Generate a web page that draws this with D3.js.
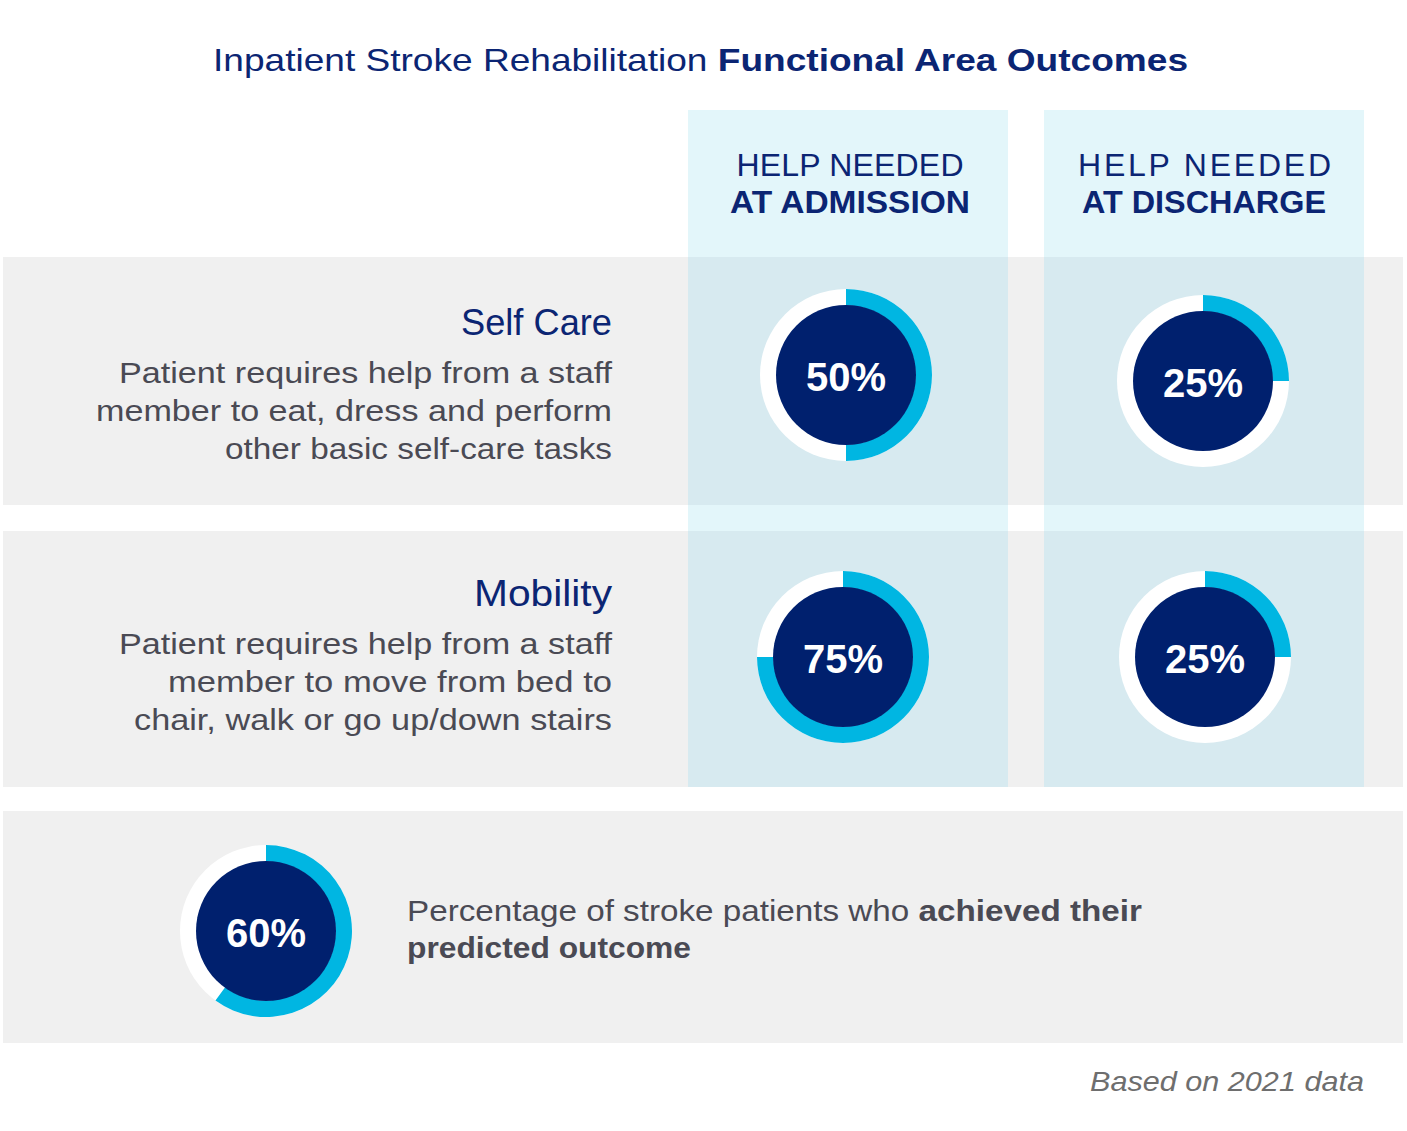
<!DOCTYPE html>
<html>
<head>
<meta charset="utf-8">
<script src="https://cdn.jsdelivr.net/npm/d3@7/dist/d3.min.js"></script>
<style>
  html, body { margin: 0; padding: 0; background: #ffffff; }
  svg { display: block; }
  text { font-family: "Liberation Sans", Arial, Helvetica, sans-serif; }
</style>
</head>
<body>
<svg id="chart" width="1407" height="1131"></svg>
<script>
// ---------- DATA ----------
const titleRegular = "Inpatient Stroke Rehabilitation ";
const titleBold = "Functional Area Outcomes";
const columns = ["admission", "discharge"];
const columnLine1 = ["HELP NEEDED", "HELP NEEDED"];
const columnLine2 = ["AT ADMISSION", "AT DISCHARGE"];
const areas = ["Self Care", "Mobility"];
const areaDescriptions = [
  ["Patient requires help from a staff", "member to eat, dress and perform", "other basic self-care tasks"],
  ["Patient requires help from a staff", "member to move from bed to", "chair, walk or go up/down stairs"]
];
const admissionValues = [50, 75];
const dischargeValues = [25, 25];
const achievedValue = 60;
const achievedTextRegular = "Percentage of stroke patients who ";
const achievedTextBold1 = "achieved their";
const achievedTextBold2 = "predicted outcome";
const footnote = "Based on 2021 data";

// ---------- STYLE ----------
const navy = "#00206E";
const titleNavy = "#0B2573";
const cyan = "#00B6E2";
const lightCyan = "#E3F6FA";
const overlapCyan = "#D7EAF0";
const rowGray = "#F0F0F0";
const descGray = "#4A4A54";
const footGray = "#6E6E6E";

const svg = d3.select("#chart");

function fit(sel, w, mode) {
  sel.attr("textLength", w).attr("lengthAdjust", mode || "spacingAndGlyphs");
  return sel;
}

// ---------- SCALES (layout) ----------
const colX = d3.scaleOrdinal().domain(columns).range([846, 1204]);
const colLeft = d3.scaleOrdinal().domain(columns).range([688, 1044]);
const colWidth = 320;
const rowY = d3.scaleOrdinal().domain(areas).range([378, 657]);
const rowTextY = d3.scaleOrdinal().domain(areas).range([378, 649]);
const rowTop = d3.scaleOrdinal().domain(areas).range([257, 531]);
const rowHeight = d3.scaleOrdinal().domain(areas).range([248, 256]);
const pct = d3.scaleLinear().domain([0, 100]).range([0, 2 * Math.PI]);
// small per-cell placement nudges [dx, dy] (layout only)
const nudge = {
  "Self Care|admission": [0, -3], "Self Care|discharge": [-1, 3],
  "Mobility|admission": [-3, 0], "Mobility|discharge": [1, 0]
};

const rOuter = 86, rInner = 70;
const arcGen = d3.arc().innerRadius(rInner - 0.5).outerRadius(rOuter).startAngle(0);

// ---------- BACKGROUNDS ----------
svg.selectAll("rect.col").data(columns).join("rect")
  .attr("x", d => colLeft(d)).attr("y", 110)
  .attr("width", colWidth).attr("height", 787 - 110)
  .attr("fill", lightCyan);

svg.selectAll("rect.row").data(areas).join("rect")
  .attr("x", 3).attr("y", d => rowTop(d))
  .attr("width", 1400).attr("height", d => rowHeight(d))
  .attr("fill", rowGray);

areas.forEach(a => {
  columns.forEach(c => {
    svg.append("rect")
      .attr("x", colLeft(c)).attr("y", rowTop(a))
      .attr("width", colWidth).attr("height", rowHeight(a))
      .attr("fill", overlapCyan);
  });
});

svg.append("rect").attr("x", 3).attr("y", 811).attr("width", 1400).attr("height", 232).attr("fill", rowGray);

// ---------- TITLE ----------
const t = svg.append("text").attr("x", 213).attr("y", 71)
  .attr("font-size", 32).attr("fill", titleNavy);
t.append("tspan").text(titleRegular);
t.append("tspan").attr("font-weight", "bold").text(titleBold);
fit(t, 975);

// ---------- COLUMN HEADERS ----------
const headW1 = [227, 253], headW2 = [240, 244];
columns.forEach((c, i) => {
  fit(svg.append("text").attr("x", colX(c) + (i ? 0.5 : 4)).attr("y", 176)
    .attr("text-anchor", "middle").attr("font-size", 32).attr("fill", titleNavy)
    .text(columnLine1[i]), headW1[i], "spacing");
  fit(svg.append("text").attr("x", colX(c) + (i ? 0 : 4)).attr("y", 213)
    .attr("text-anchor", "middle").attr("font-size", 32).attr("font-weight", "bold").attr("fill", titleNavy)
    .text(columnLine2[i]), headW2[i]);
});

// ---------- ROW LABELS ----------
const labelW = [151, 138];
const descW = [[493, 516, 387], [493, 444, 478]];
areas.forEach((a, i) => {
  const base = rowTextY(a);
  fit(svg.append("text").attr("x", 612).attr("y", base - 43)
    .attr("text-anchor", "end").attr("font-size", 36).attr("fill", titleNavy)
    .text(a), labelW[i]);
  areaDescriptions[i].forEach((line, j) => {
    fit(svg.append("text").attr("x", 612).attr("y", base + 5 + j * 38)
      .attr("text-anchor", "end").attr("font-size", 30).attr("fill", descGray)
      .text(line), descW[i][j]);
  });
});

// ---------- DONUTS ----------
function donut(cx, cy, value) {
  const g = svg.append("g").attr("transform", `translate(${cx},${cy})`);
  g.append("circle").attr("r", rOuter).attr("fill", "#ffffff");
  g.append("path").attr("d", arcGen.endAngle(pct(value))()).attr("fill", cyan);
  g.append("circle").attr("r", rInner).attr("fill", navy);
  g.append("text").attr("y", 16).attr("text-anchor", "middle")
    .attr("font-size", 40).attr("font-weight", "bold").attr("fill", "#ffffff")
    .text(value + "%");
}
areas.forEach((a, i) => {
  const na = nudge[a + "|admission"], nd = nudge[a + "|discharge"];
  donut(colX("admission") + na[0], rowY(a) + na[1], admissionValues[i]);
  donut(colX("discharge") + nd[0], rowY(a) + nd[1], dischargeValues[i]);
});
donut(266, 931, achievedValue);

// ---------- BOTTOM TEXT ----------
const b1 = svg.append("text").attr("x", 407).attr("y", 921)
  .attr("font-size", 30).attr("fill", descGray);
b1.append("tspan").text(achievedTextRegular);
b1.append("tspan").attr("font-weight", "bold").text(achievedTextBold1);
fit(b1, 735);
fit(svg.append("text").attr("x", 407).attr("y", 958)
  .attr("font-size", 30).attr("font-weight", "bold").attr("fill", descGray)
  .text(achievedTextBold2), 284);

// ---------- FOOTNOTE ----------
fit(svg.append("text").attr("x", 1364).attr("y", 1091)
  .attr("text-anchor", "end").attr("font-size", 28).attr("font-style", "italic").attr("fill", footGray)
  .text(footnote), 274);
</script>
</body>
</html>
